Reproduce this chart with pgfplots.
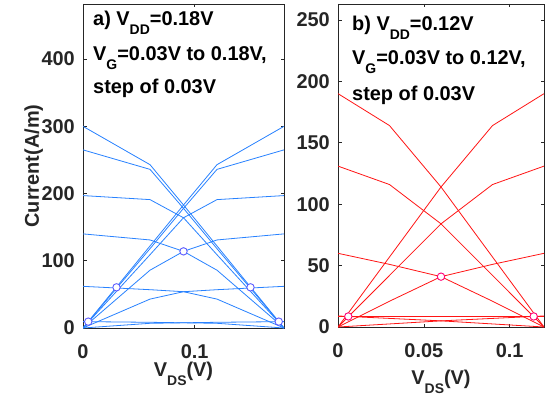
\documentclass[border=0pt]{standalone}
\usepackage{pgfplots}
\pgfplotsset{compat=1.18}
\usepackage{fontspec}
\setmainfont{Liberation Sans}
\definecolor{lblue}{RGB}{40,130,255}
\definecolor{cblue}{RGB}{90,90,255}
\definecolor{lred}{RGB}{255,20,20}
\definecolor{cred}{RGB}{255,0,120}
\definecolor{axgray}{RGB}{38,38,38}
\newcommand{\sub}[1]{\raisebox{-9bp}{\fontsize{14}{14}\selectfont\bfseries #1}}
\pgfplotsset{
  myax/.style={
    scale only axis, anchor=south west,
    axis line style={axgray, line width=0.6bp},
    tick style={axgray, line width=0.6bp},
    major tick length=3.5bp,
    tick align=inside,
    every tick label/.append style={font=\fontsize{20}{24}\selectfont\bfseries, text=axgray},
    /pgf/number format/assume math mode=true,
    xticklabel style={anchor=base, inner sep=0pt, yshift=-30bp},
    yticklabel style={anchor=east, inner sep=0pt, xshift=-8bp},
    label style={font=\fontsize{20}{24}\selectfont\bfseries, text=axgray, inner sep=0pt},
    every axis plot/.append style={line width=0.8bp},
  },
  bmark/.style={only marks, mark=*, mark size=3.7bp, mark options={draw=cblue, fill=white, line width=0.9bp}},
  rmark/.style={only marks, mark=*, mark size=3.7bp, mark options={draw=cred, fill=white, line width=0.9bp}},
}
\begin{document}
\begin{tikzpicture}[x=1bp,y=1bp]
\fill[white] (0,0) rectangle (551,397);
\useasboundingbox (0,0) rectangle (551,397);
% ---------------- left panel
\begin{axis}[myax, at={(83bp,69bp)}, width=201bp, height=324bp,
  xmin=0, xmax=0.18, ymin=0, ymax=482,
  xtick={0,0.1}, xticklabels={0,0.1},
  ytick={0,100,200,300,400},
  xlabel={V\sub{DS}(V)},
  xlabel style={at={(axis description cs:0.5,0)}, anchor=base, yshift=-48bp},
  ylabel={Current(A/m)},
  ylabel style={at={(axis description cs:-0.22,0.5)}, anchor=base, rotate=0},
]
\addplot[lblue] coordinates {(0,300) (0.06,243) (0.09,183) (0.12,122) (0.18,0)};
\addplot[lblue] coordinates {(0,0) (0.06,122) (0.09,183) (0.12,243) (0.18,300)};
\addplot[lblue] coordinates {(0,265) (0.06,236) (0.09,178) (0.12,118) (0.18,0)};
\addplot[lblue] coordinates {(0,0) (0.06,118) (0.09,178) (0.12,236) (0.18,265)};
\addplot[lblue] coordinates {(0,197) (0.06,191) (0.09,164) (0.12,109) (0.18,0)};
\addplot[lblue] coordinates {(0,0) (0.06,109) (0.09,164) (0.12,191) (0.18,197)};
\addplot[lblue] coordinates {(0,140) (0.06,131) (0.09,114) (0.12,86) (0.18,0)};
\addplot[lblue] coordinates {(0,0) (0.06,86) (0.09,114) (0.12,131) (0.18,140)};
\addplot[lblue] coordinates {(0,62) (0.06,57) (0.09,54) (0.12,43) (0.18,0)};
\addplot[lblue] coordinates {(0,0) (0.06,43) (0.09,54) (0.12,57) (0.18,62)};
\addplot[lblue] coordinates {(0,9.5) (0.06,8.5) (0.12,7) (0.18,0)};
\addplot[lblue] coordinates {(0,0) (0.06,7) (0.12,8.5) (0.18,9.5)};
\addplot[bmark] coordinates {(0.0047,9.5) (0.03,60.5) (0.09,114) (0.15,60.5) (0.1753,9.5)};
\end{axis}
% ---------------- right panel
\begin{axis}[myax, at={(338bp,70bp)}, width=206bp, height=323bp,
  xmin=0, xmax=0.12, ymin=0, ymax=263,
  xtick={0,0.05,0.1}, xticklabels={0,0.05,0.1},
  ytick={0,50,100,150,200,250},
  xlabel={V\sub{DS}(V)},
  xlabel style={at={(axis description cs:0.5,0)}, anchor=base, yshift=-57bp},
]
\addplot[lred] coordinates {(0,190) (0.03,164) (0.06,114) (0.09,57) (0.12,0)};
\addplot[lred] coordinates {(0,0) (0.03,57) (0.06,114) (0.09,164) (0.12,190)};
\addplot[lred] coordinates {(0,131) (0.03,116) (0.06,84) (0.09,42) (0.12,0)};
\addplot[lred] coordinates {(0,0) (0.03,42) (0.06,84) (0.09,116) (0.12,131)};
\addplot[lred] coordinates {(0,60) (0.03,51) (0.06,41) (0.09,21) (0.12,0)};
\addplot[lred] coordinates {(0,0) (0.03,21) (0.06,41) (0.09,51) (0.12,60)};
\addplot[lred] coordinates {(0,9) (0.06,5) (0.12,0)};
\addplot[lred] coordinates {(0,0) (0.06,5) (0.12,9)};
\addplot[lred] coordinates {(0,8.8) (0.12,8.8)};
\addplot[rmark] coordinates {(0.006,8.6) (0.06,41) (0.114,8.6)};
\end{axis}
% ---------------- annotations
\begin{scope}[every node/.style={anchor=base west, inner sep=0pt, font=\fontsize{20}{24}\selectfont\bfseries, text=black}]
\node at (93,372) {a) V\sub{DD}=0.18V};
\node at (93,337) {V\sub{G}=0.03V to 0.18V,};
\node at (93,304) {step of 0.03V};
\node at (352,367) {b) V\sub{DD}=0.12V};
\node at (352,333) {V\sub{G}=0.03V to 0.12V,};
\node at (352,297) {step of 0.03V};
\end{scope}
\end{tikzpicture}
\end{document}
